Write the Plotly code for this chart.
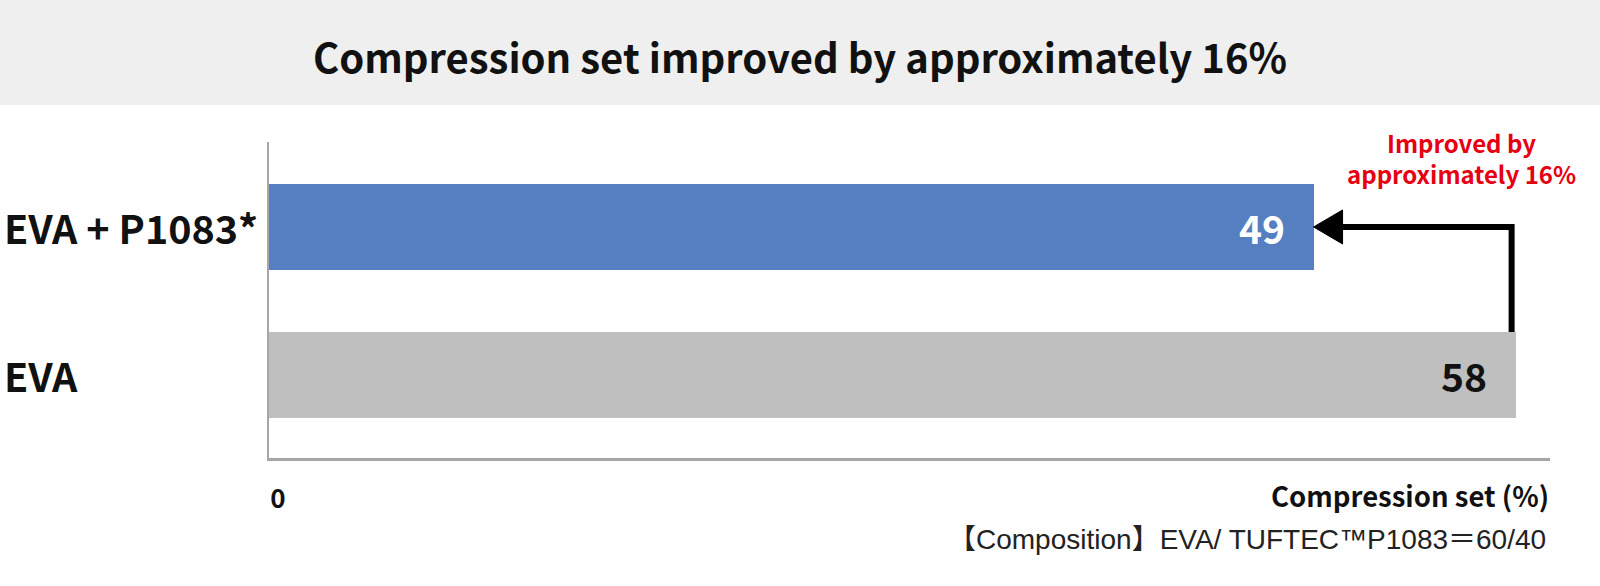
import plotly.graph_objects as go

categories = ["EVA", "EVA + P1083*"]
values = [58.0, 48.6]
bar_colors = ["#BFBFBF", "#557FC0"]
label_colors = ["#111111", "#FFFFFF"]
title_text = "Compression set improved by approximately 16%"
note_text = "Improved by<br>approximately 16%"
x_title = "Compression set (%)"
composition = "【Composition】EVA/ TUFTEC™P1083＝60/40"
x_tick_vals = [0]
x_tick_text = ["0"]

FONT = "Noto Sans CJK JP"
W, H = 1600, 586
L, R, T, B = 269, 50, 142, 128
pw = W - L - R
ph = H - T - B
XMAX = 59.6
BARW = 0.58
ypos = list(range(len(categories)))

def px_to_paper_y(py):
    return (H - B - py) / ph

def px_to_paper_x(px):
    return (px - L) / pw

fig = go.Figure()
fig.add_trace(go.Bar(
    x=values, y=ypos, orientation="h", width=BARW,
    marker=dict(color=bar_colors, line=dict(width=0)),
    hoverinfo="skip",
))

annotations = []
# value labels
for i, v in enumerate(values):
    annotations.append(dict(
        x=v, y=ypos[i], xref="x", yref="y", text=f"{v:.0f}",
        showarrow=False, xanchor="right", yanchor="middle", xshift=-27,
        font=dict(family=FONT, size=39, color=label_colors[i], weight=700),
    ))
# category labels
for i, c in enumerate(categories):
    annotations.append(dict(
        x=px_to_paper_x(2), y=ypos[i], xref="paper", yref="y", text=c,
        showarrow=False, xanchor="left", yanchor="middle",
        font=dict(family=FONT, size=39.5, color="#111111", weight=700),
    ))
# title
annotations.append(dict(
    x=px_to_paper_x(800), y=px_to_paper_y(56), xref="paper", yref="paper",
    text=title_text, showarrow=False, xanchor="center", yanchor="middle",
    font=dict(family=FONT, size=40, color="#111111", weight=700),
))
# red note
annotations.append(dict(
    x=px_to_paper_x(1461), y=px_to_paper_y(158), xref="paper", yref="paper",
    text=note_text, showarrow=False, xanchor="center", yanchor="middle",
    align="center",
    font=dict(family=FONT, size=24, color="#E60012", weight=700),
))
# x axis title
annotations.append(dict(
    x=px_to_paper_x(1551), y=px_to_paper_y(495), xref="paper", yref="paper",
    text=x_title, showarrow=False, xanchor="right", yanchor="middle",
    font=dict(family=FONT, size=27.5, color="#111111", weight=700),
))
# composition
annotations.append(dict(
    x=px_to_paper_x(1548), y=px_to_paper_y(539), xref="paper", yref="paper",
    text=composition, showarrow=False, xanchor="right", yanchor="middle",
    font=dict(family="Liberation Sans, Noto Sans CJK JP", size=28, color="#222222"),
))

shapes = []
# title banner
shapes.append(dict(
    type="rect", xref="paper", yref="paper",
    x0=px_to_paper_x(0), x1=px_to_paper_x(W),
    y0=px_to_paper_y(105), y1=px_to_paper_y(0),
    fillcolor="#EFEFEF", line=dict(width=0), layer="below",
))
# arrow L-shaped connector (from EVA bar top to the improved bar)
px_per_unit = pw / XMAX
head_len = 29
x_vert = values[0] - 4 / px_per_unit
y_top = ypos[1]
y_bot = ypos[0] + BARW / 2
x_head_base = values[1] + head_len / px_per_unit
shapes.append(dict(
    type="path", xref="x", yref="y",
    path=f"M{x_vert},{y_bot} L{x_vert},{y_top} L{x_head_base},{y_top}",
    line=dict(color="#000000", width=6), layer="above",
))
# arrowhead
shapes.append(dict(
    type="path", xref="x", yref="y", xsizemode="pixel", ysizemode="pixel",
    xanchor=values[1], yanchor=y_top,
    path=f"M0,0 L{head_len},17 L{head_len},-17 Z",
    fillcolor="#000000", line=dict(color="#000000", width=1), layer="above",
))

fig.update_layout(
    width=W, height=H,
    margin=dict(l=L, r=R, t=T, b=B, pad=0),
    paper_bgcolor="#FFFFFF", plot_bgcolor="#FFFFFF",
    showlegend=False,
    annotations=annotations, shapes=shapes,
    bargap=0,
    xaxis=dict(
        range=[0, XMAX], showgrid=False, zeroline=False,
        showline=True, linecolor="#A6A6A6", linewidth=3,
        tickmode="array", tickvals=x_tick_vals, ticktext=x_tick_text,
        ticks="", ticklabelstandoff=16, ticklabelshift=9,
        tickfont=dict(family=FONT, size=26, color="#111111", weight=700),
        fixedrange=True,
    ),
    yaxis=dict(
        range=[-0.561, 1.574], showgrid=False, zeroline=False,
        showline=True, linecolor="#A6A6A6", linewidth=2,
        showticklabels=False, ticks="", fixedrange=True,
    ),
)

fig.write_html(
    "out.html",
    config={"displayModeBar": False},
    post_script="document.body.style.margin='0';document.body.style.overflow='hidden';",
)
